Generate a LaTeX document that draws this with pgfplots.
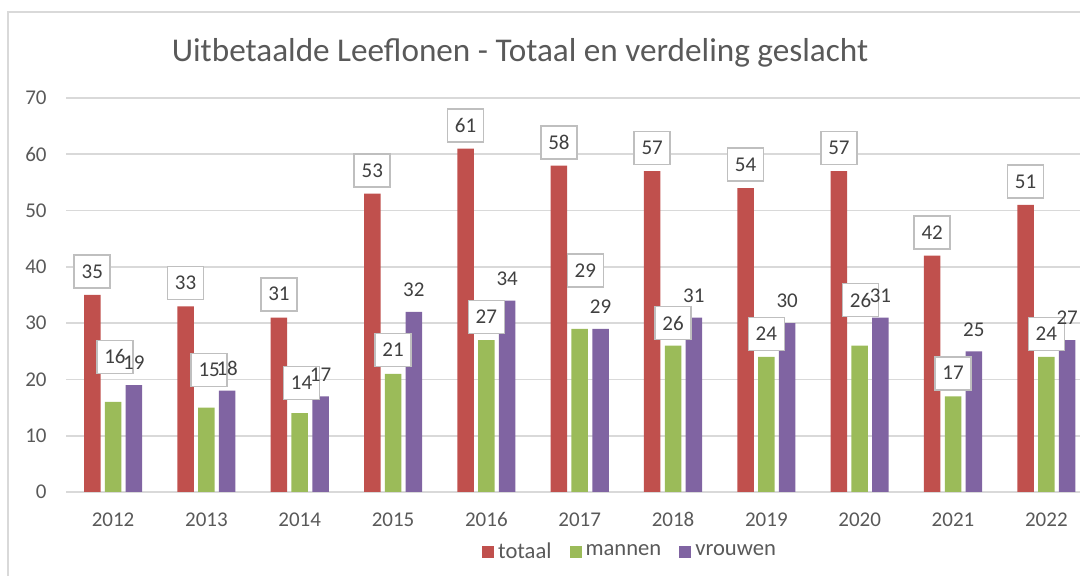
\documentclass[border=0pt]{standalone}
\usepackage{pgfplots}
\pgfplotsset{compat=1.18}
\usepackage{pgfplotstable}
\usepackage{fontspec}
\setmainfont{Carlito}

\definecolor{cTot}{HTML}{C0504D}
\definecolor{cMan}{HTML}{9BBB59}
\definecolor{cVrw}{HTML}{8064A2}
\definecolor{cGrid}{HTML}{D9D9D9}
\definecolor{cTxt}{HTML}{595959}
\definecolor{cLbl}{HTML}{404040}
\definecolor{cBox}{HTML}{BFBFBF}

% 0 = 2012 ... 10 = 2022
\pgfplotstableread{
jaar totaal mannen vrouwen
0  35 16 19
1  33 15 18
2  31 14 17
3  53 21 32
4  61 27 34
5  58 29 29
6  57 26 31
7  54 24 30
8  57 26 31
9  42 17 25
10 51 24 27
}\leeflonen

% labels van mannen staan met de hand verschoven
\pgfplotstableread{
lx    ly   waarde
0.02  24.0 16
1.03  21.7 15
2.02  19.4 14
3.00  25.2 21
4.00  31.1 27
5.06  39.4 29
6.00  30.0 26
7.00  28.1 24
8.01  34.1 26
9.00  21.1 17
10.00 28.1 24
}\mannenlabels

\tikzset{labelbox/.style={draw=cBox, line width=0.8pt, fill=white, text=cLbl,
  minimum width=18pt, minimum height=16.5pt, inner sep=0pt}}

\begin{document}
\begin{tikzpicture}[font=\fontsize{10.5}{12}\selectfont]
\useasboundingbox (0,0) rectangle (540pt,288pt);
\clip (0,0) rectangle (540pt,288pt);
\draw[cGrid, line width=0.9pt] (4pt,-20pt) rectangle (620pt,282pt);
\node[anchor=base, text=cTxt, font=\fontsize{16.6}{19}\selectfont] at (260pt,257pt)
  {Uitbetaalde Leeflonen - Totaal en verdeling geslacht};
\begin{axis}[
  at={(33.2pt,42pt)}, anchor=south west,
  scale only axis, width=513.3pt, height=197pt,
  xmin=-0.5, xmax=10.5, ymin=0, ymax=70,
  axis x line=bottom, axis y line=left,
  axis line style={-},
  x axis line style={cGrid, line width=0.8pt},
  y axis line style={draw=none},
  xtick={0,...,10},
  xticklabels={2012,2013,2014,2015,2016,2017,2018,2019,2020,2021,2022},
  ytick={0,10,...,70},
  ymajorgrids, major grid style={cGrid, line width=0.8pt},
  tick style={draw=none}, major tick length=0pt,
  /pgf/number format/assume math mode=true,
  xticklabel style={anchor=base, yshift=-17.3pt, text=cTxt},
  yticklabel style={anchor=east, inner sep=0pt, xshift=-9.7pt, text=cTxt},
  legend style={at={(0.55,-0.152)}, anchor=center, draw=none, fill=none,
    legend columns=3, text=cTxt, font=\fontsize{11.3}{13}\selectfont,
    /tikz/every even column/.append style={column sep=7pt}},
  legend image code/.code={\draw[#1, draw=none] (0pt,-3pt) rectangle (6pt,3pt);},
]
\addplot[ybar, bar width=8.25pt, bar shift=-10.4pt, fill=cTot, draw=none,
  nodes near coords,
  nodes near coords style={labelbox, anchor=south, xshift=-10.4pt, yshift=3pt}]
  table[x=jaar, y=totaal] {\leeflonen};
\addlegendentry{totaal}
\addplot[ybar, bar width=8.25pt, bar shift=0pt, fill=cMan, draw=none]
  table[x=jaar, y=mannen] {\leeflonen};
\addlegendentry{mannen}
\addplot[draw=none, mark=none, forget plot, point meta=explicit,
  nodes near coords,
  nodes near coords style={labelbox, anchor=center}]
  table[x=lx, y=ly, meta=waarde] {\mannenlabels};
\addplot[ybar, bar width=8.25pt, bar shift=10.4pt, fill=cVrw, draw=none,
  nodes near coords,
  nodes near coords style={text=cLbl, anchor=center, xshift=10.4pt, yshift=11pt}]
  table[x=jaar, y=vrouwen] {\leeflonen};
\addlegendentry{vrouwen}
\end{axis}
\end{tikzpicture}
\end{document}
